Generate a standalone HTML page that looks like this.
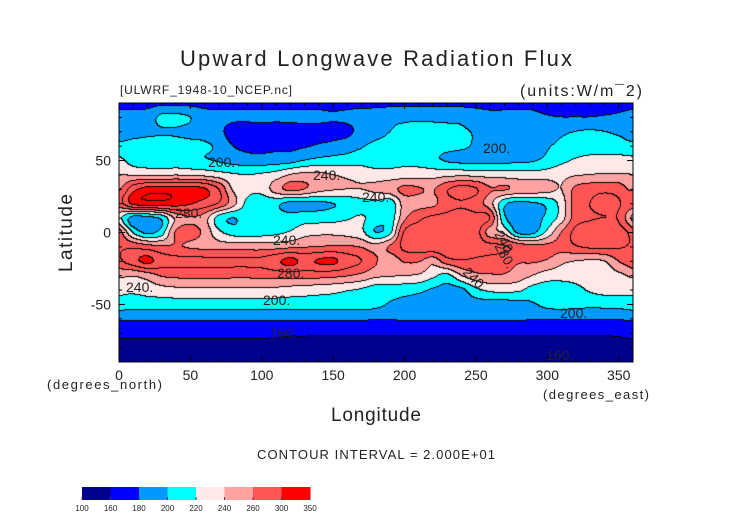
<!DOCTYPE html>
<html><head><meta charset="utf-8"><style>
html,body{margin:0;padding:0;background:#fff;}
#wrap{position:relative;width:752px;height:532px;overflow:hidden;}
canvas{position:absolute;left:119px;top:103px;}
svg{position:absolute;left:0;top:0;}
</style></head><body>
<div id="wrap">
<canvas id="map" width="514" height="259"></canvas>
<svg id="svg" width="752" height="532" font-family="'Liberation Sans', sans-serif"></svg>
</div>
<script>
// data: latitudes (rows) and longitudes (columns), values W/m^2
const lats=[90,80,70,60,50,40,30,20,10,0,-10,-20,-30,-40,-50,-60,-70,-80,-90];
const lons=[0,10,20,30,40,50,60,70,80,90,100,110,120,130,140,150,160,170,180,190,200,210,220,230,240,250,260,270,280,290,300,310,320,330,340,350,360];
const r90=[175,175,175,175,175,175,175,175,175,175,175,175,175,175,175,175,175,175,175,175,175,175,175,175,175,175,175,175,175,175,168,168,168,168,168,172,175];
const r80=[186,186,188,205,205,200,188,186,184,184,184,184,184,184,184,182,184,188,190,195,195,195,195,195,195,190,185,185,185,185,182,180,180,180,182,184,186];
const r70=[190,192,195,198,198,195,192,185,172,170,172,170,172,174,174,175,176,186,192,200,205,208,206,204,202,198,190,188,186,188,190,196,200,202,200,196,190];
const r60=[205,207,208,208,206,205,203,196,180,176,175,176,176,178,182,185,190,198,205,208,210,208,206,205,203,198,194,192,192,194,198,205,210,212,212,210,205];
const r50=[225,212,210,208,208,206,202,198,192,188,188,190,192,200,205,208,210,212,210,212,215,212,205,198,195,194,192,194,196,198,205,215,222,225,226,226,225];
const r40=[240,238,236,236,238,236,234,228,222,220,222,228,240,245,244,240,236,232,228,228,230,232,232,234,235,234,232,230,228,228,230,234,238,240,242,242,240];
const r30=[258,292,308,310,310,308,302,280,238,226,225,250,265,260,248,242,240,240,245,252,265,262,258,278,288,282,262,262,255,252,248,240,265,272,275,272,258];
const r20=[272,305,312,313,310,302,292,278,248,215,210,205,195,195,196,200,205,212,215,208,248,252,255,272,278,270,248,205,195,198,205,228,270,280,285,282,272];
const r10=[230,192,195,205,245,258,250,212,200,210,212,210,208,212,212,214,218,222,212,208,255,275,284,286,288,286,280,205,190,192,205,230,270,278,280,278,235];
const r0=[270,218,195,210,262,268,255,225,212,210,212,215,222,232,235,235,232,225,200,215,282,292,295,296,294,290,250,235,195,195,225,260,285,290,292,288,270];
const rm10=[278,275,268,262,262,258,255,252,250,250,250,252,255,258,260,262,262,258,248,262,285,292,295,295,292,290,286,282,272,265,265,268,278,284,285,282,278];
const rm20=[275,292,305,290,286,286,285,284,284,284,285,295,306,295,302,304,290,280,262,248,262,262,248,272,278,276,272,268,262,262,258,245,240,238,240,260,275];
const rm30=[244,242,250,262,265,266,266,266,265,265,266,268,270,268,268,266,262,255,245,242,240,238,225,215,240,255,258,258,250,240,230,228,228,228,230,235,244];
const rm40=[225,224,228,232,235,236,236,236,236,236,236,235,232,230,228,226,222,218,210,210,208,205,198,194,196,215,225,226,224,212,210,210,215,222,226,226,225];
const rm50=[212,210,210,210,210,210,210,210,210,210,210,210,210,210,210,210,210,210,206,198,194,192,192,192,192,192,192,192,194,198,206,208,207,206,207,208,212];
const rm60=[183,183,183,183,183,183,183,183,183,183,183,183,183,183,183,183,183,183,182,182,182,182,182,182,182,182,182,182,182,182,182,182,182,182,182,182,183];
const rm70=[168,168,168,168,168,168,168,168,168,168,168,166,164,164,163,163,163,163,163,163,163,163,163,163,163,163,163,163,163,163,163,163,163,163,163,165,168];
const rm80=[150,150,150,150,150,150,150,150,150,150,150,150,150,150,150,150,150,150,150,150,150,150,150,150,150,150,150,150,150,150,150,150,150,150,150,150,150];
const rm90=[156,156,156,156,156,156,156,156,156,156,156,156,156,156,156,156,156,156,156,156,156,156,156,156,156,156,156,156,156,156,156,156,156,156,156,156,156];
const grid=[r90,r80,r70,r60,r50,r40,r30,r20,r10,r0,rm10,rm20,rm30,rm40,rm50,rm60,rm70,rm80,rm90];
const levels=[100,160,180,200,220,240,260,300,350];
const levelColors=['#00008f','#0000ff','#009aff','#00ffff','#ffe8e8','#ffa2a2','#ff5555','#ff0000'];
const xTicks=[0,50,100,150,200,250,300,350];
const yTicks=[50,0,-50];

const PX=119,PY=103,PW=514,PH=259;
function xOf(lon){return PX+lon/360*PW;}
function yOf(lat){return PY+(90-lat)/180*PH;}
function cr(p0,p1,p2,p3,t){return 0.5*((2*p1)+(-p0+p2)*t+(2*p0-5*p1+4*p2-p3)*t*t+(-p0+3*p1-3*p2+p3)*t*t*t);}
function g(j,i){j=Math.max(0,Math.min(lats.length-1,j));if(i<0)i+=36;if(i>36)i-=36;return grid[j][i];}
function val(lon,lat){
  const fi=lon/10, fj=(90-lat)/10;
  let i=Math.min(Math.floor(fi),lons.length-2), j=Math.min(Math.floor(fj),lats.length-2);
  const tx=fi-i, ty=fj-j;
  const rows=[];
  for(let dj=-1;dj<=2;dj++){rows.push(cr(g(j+dj,i-1),g(j+dj,i),g(j+dj,i+1),g(j+dj,i+2),tx));}
  return cr(rows[0],rows[1],rows[2],rows[3],ty);
}
function hex(h){return [parseInt(h.substr(1,2),16),parseInt(h.substr(3,2),16),parseInt(h.substr(5,2),16)];}
const cols=levelColors.map(hex);
function band(v){for(let k=levels.length-2;k>=0;k--){if(v>=levels[k])return k;}return 0;}
const cv=document.getElementById('map'),ctx=cv.getContext('2d');
const img=ctx.createImageData(PW,PH);
const V=new Float32Array(PW*PH);
for(let y=0;y<PH;y++)for(let x=0;x<PW;x++){
  const lon=(x+0.5)/PW*360, lat=90-(y+0.5)/PH*180;
  V[y*PW+x]=val(lon,lat);
}
for(let y=0;y<PH;y++)for(let x=0;x<PW;x++){
  const v=V[y*PW+x];const c=cols[band(v)];const p=(y*PW+x)*4;
  let k=Math.floor(v/20);
  let edge=false;
  if(x<PW-1&&Math.floor(V[y*PW+x+1]/20)!==k)edge=true;
  if(y<PH-1&&Math.floor(V[(y+1)*PW+x]/20)!==k)edge=true;
  if(edge){img.data[p]=0;img.data[p+1]=0;img.data[p+2]=0;}
  else{img.data[p]=c[0];img.data[p+1]=c[1];img.data[p+2]=c[2];}
  img.data[p+3]=255;
}
ctx.putImageData(img,0,0);

const NS='http://www.w3.org/2000/svg';
const svg=document.getElementById('svg');
function el(tag,attrs,text){const e=document.createElementNS(NS,tag);for(const k in attrs)e.setAttribute(k,attrs[k]);if(text!==undefined)e.textContent=text;svg.appendChild(e);return e;}
const fr=el('rect',{x:PX,y:PY,width:PW,height:PH,fill:'none',stroke:'#000','stroke-width':1});


for(let lon=0;lon<=360;lon+=10){
  const t1=el('line',{x1:xOf(lon),x2:xOf(lon),y1:PY,y2:PY+(lon%50===0?6:3),stroke:'#000'});
  
  
  const t2=el('line',{x1:xOf(lon),x2:xOf(lon),y1:PY+PH,y2:PY+PH-(lon%50===0?6:3),stroke:'#000'});
  
  
}
for(let lat=-90;lat<=90;lat+=10){
  const t1=el('line',{x1:PX,x2:PX+(lat%50===0?6:3),y1:yOf(lat),y2:yOf(lat),stroke:'#000'});
  
  
  const t2=el('line',{x1:PX+PW,x2:PX+PW-(lat%50===0?6:3),y1:yOf(lat),y2:yOf(lat),stroke:'#000'});
  
  
}
xTicks.forEach(v=>{
  const t=el('text',{x:xOf(v),y:380,'font-size':14,'text-anchor':'middle',fill:'#222'},String(v));
  
  
});
yTicks.forEach(v=>{
  const t=el('text',{x:111,y:yOf(v)+5,'font-size':14,'text-anchor':'end',fill:'#222'},String(v));
  
  
});
function txt(name,x,y,s,size,anchor,extra){
  const t=el('text',Object.assign({x:x,y:y,'font-size':size,'text-anchor':anchor||'start',fill:'#222'},extra||{}),s);
  
  
  return t;
}
txt('chart-title',376,66,'Upward Longwave Radiation Flux',22,'middle',{textLength:392});
txt('file-name',120,94,'[ULWRF_1948-10_NCEP.nc]',12,'start',{textLength:172});
txt('units-label',642,96,'(units:W/m\u00AF2)',16,'end',{textLength:122});
txt('y-unit-label',47,389,'(degrees_north)',13,'start',{textLength:115});
txt('x-unit-label',543,399,'(degrees_east)',13,'start',{textLength:106});
txt('x-axis-title',376,421,'Longitude',19,'middle',{textLength:90});
txt('y-axis-title',72,233,'Latitude',19,'middle',{transform:'rotate(-90 72 233)',textLength:78});
txt('contour-interval',376,459,'CONTOUR INTERVAL = 2.000E+01',13,'middle',{textLength:238});
const cl=[['200.',208,167,0],['240.',313,180,0],['280.',175,218,0],['240.',273,245,0],['280.',277,278,0],['240.',126,292,0],['200.',263,305,0],['160.',270,338,0],['200.',483,153,0],['240.',362,202,0],['240',494,234,60],['280.',494,246,60],['240.',462,273,45],['200.',560,318,0],['160.',546,360,0]];
cl.forEach(c=>{
  txt('contour-label',c[1],c[2],c[0],14,'start',c[3]?{transform:'rotate('+c[3]+' '+c[1]+' '+c[2]+')'}:{});
});
const cbX=82,cbW=228,cbY=487,cbH=13,n=levelColors.length;
levelColors.forEach((c,i)=>{
  const r=el('rect',{x:cbX+i*cbW/n,y:cbY,width:cbW/n+0.5,height:cbH,fill:c});
  
  
});
levels.forEach((l,i)=>{
  const t=el('text',{x:cbX+i*cbW/n,y:511,'font-size':8,'text-anchor':'middle',fill:'#222'},String(l));
  
  
  const tk=el('line',{x1:cbX+i*cbW/n,x2:cbX+i*cbW/n,y1:cbY+cbH-3,y2:cbY+cbH,stroke:'#444'});
  
  
});
</script>
</body></html>
